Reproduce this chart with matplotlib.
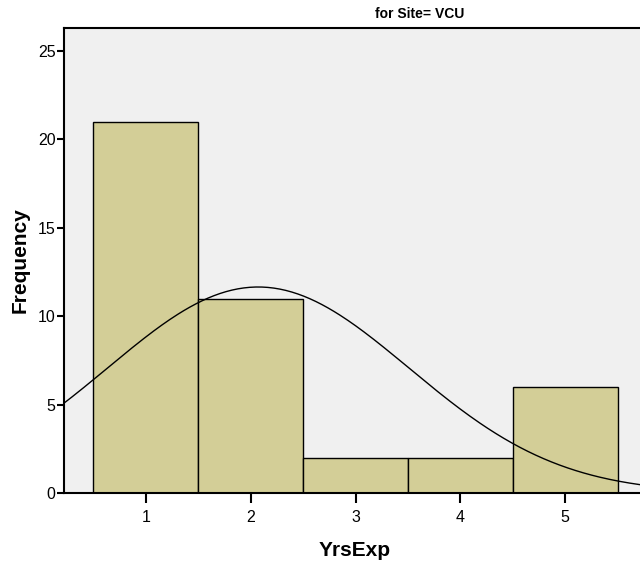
import matplotlib.pyplot as plt
import numpy as np

# Histogram counts per YrsExp value
yrs = [1, 2, 3, 4, 5]
counts = [21, 11, 2, 2, 6]

plt.rcParams['font.family'] = ['Liberation Sans', 'DejaVu Sans']

fig = plt.figure(figsize=(6.4, 5.62), dpi=100)
ax = fig.add_axes([64 / 640, 69 / 562, 582 / 640, 465 / 562])
ax.set_facecolor('#F0F0F0')

ax.bar(yrs, counts, width=1.0, color='#D3CE97', edgecolor='black', linewidth=1.0, zorder=2)

# Normal curve from the counts
vals = np.repeat(yrs, counts)
n = len(vals)
mu = vals.mean()
sd = vals.std(ddof=1)
xs = np.linspace(0.2, 5.9, 300)
ys = n * 1.0 / (sd * np.sqrt(2 * np.pi)) * np.exp(-0.5 * ((xs - mu) / sd) ** 2)
ax.plot(xs, ys, color='black', linewidth=1.0, zorder=3)

ax.set_xlim(0.219, 5.77)
ax.set_ylim(0, 26.3)
ax.set_xticks(yrs)
ax.set_yticks([0, 5, 10, 15, 20, 25])
ax.tick_params(axis='y', length=5, width=1.5, labelsize=11.5, pad=1)
ax.tick_params(axis='x', length=7, width=1.5, labelsize=11.5, pad=5)
for s in ax.spines.values():
    s.set_linewidth(1.5)

ax.set_xlabel('YrsExp', fontsize=15, fontweight='bold', labelpad=12)
ax.set_ylabel('Frequency', fontsize=15, fontweight='bold', labelpad=6)
fig.text(420 / 640, 1 - 14 / 562, 'for Site= VCU', ha='center', va='center',
         fontsize=10, fontweight='bold')

fig.savefig('out.png', dpi=100)
